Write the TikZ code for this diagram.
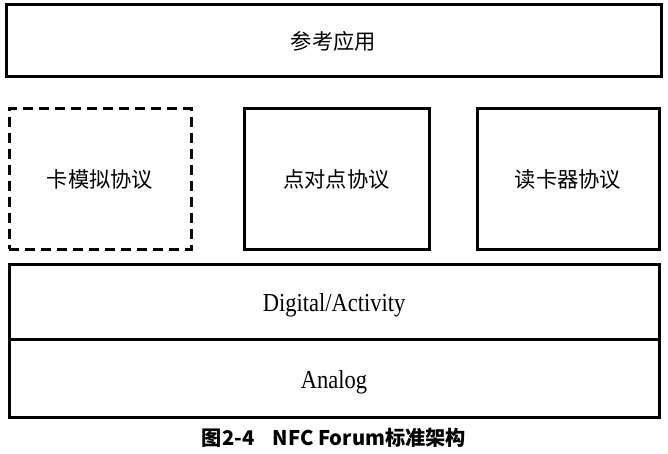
\documentclass[tikz,border=0pt]{standalone}
\usepackage{fontspec}
\setmainfont{Liberation Serif}
\newfontfamily\cjk{Noto Sans CJK SC}
\begin{document}
\begin{tikzpicture}[x=1pt,y=1pt,
  box/.style={draw=black, line width=3pt, inner sep=0pt, outer sep=0pt},
  dashbox/.style={box, dash pattern=on 10pt off 6pt},
  zh/.style={font=\cjk\fontsize{21.3}{25}\selectfont},
  en/.style={font=\fontsize{22.5}{26}\selectfont},
  captext/.style={font=\cjk\bfseries\fontsize{20.2}{24}\selectfont}]
\useasboundingbox (0,0) rectangle (668,453);
\node[box, zh, minimum width=655pt, minimum height=72pt] (app) at (333.5,412) {参考应用};
\node[dashbox, zh, minimum width=182pt, minimum height=140pt] (ce) at (100,274) {卡模拟协议};
\node[box, zh, minimum width=185pt, minimum height=140pt] (p2p) at (336.5,274) {点对点协议};
\node[box, zh, minimum width=182pt, minimum height=140pt] (rw) at (568,274) {读卡器协议};
\node[box, en, minimum width=650pt, minimum height=75pt] (dig) at (334,151.5) {\raisebox{-10pt}[0pt][0pt]{\scalebox{1}[1.15]{Digital/Activity}}};
\node[box, en, minimum width=650pt, minimum height=78pt] (ana) at (334,75) {\raisebox{-10.5pt}[0pt][0pt]{\scalebox{1}[1.15]{Analog}}};
\node[captext] (caption) at (334,15) {图2-4\hspace{0.9em}NFC Forum标准架构};
\end{tikzpicture}
\end{document}
